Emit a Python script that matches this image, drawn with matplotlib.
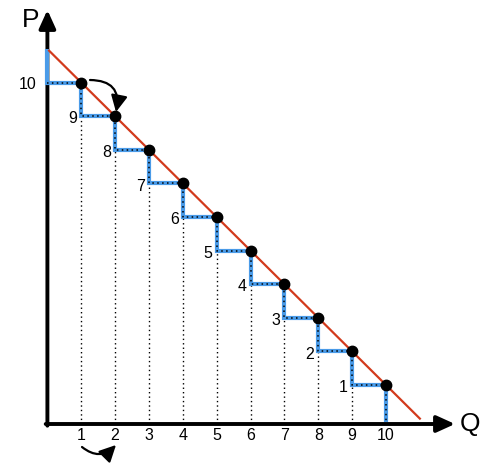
import matplotlib
matplotlib.use("Agg")
import matplotlib.pyplot as plt
from matplotlib.patches import FancyArrowPatch

# ---- data ----
quantities = [1, 2, 3, 4, 5, 6, 7, 8, 9, 10]
prices = [10, 9, 8, 7, 6, 5, 4, 3, 2, 1]
x_tick_labels = ["1", "2", "3", "4", "5", "6", "7", "8", "9", "10"]
price_labels = ["10", "9", "8", "7", "6", "5", "4", "3", "2", "1"]
demand_intercept = 11  # P = 11 - Q

plt.rcParams['font.family'] = ['Liberation Sans', 'DejaVu Sans']

W, H = 502, 463
fig = plt.figure(figsize=(W / 100, H / 100), dpi=100)
ax = fig.add_axes([0, 0, 1, 1])
ax.set_axis_off()

# pixel mapping
x0, sx = 47.4, 33.86
y0, sy = 418.6, 33.6
ax.set_xlim(-x0 / sx, (W - x0) / sx)
ax.set_ylim((y0 - H) / sy, y0 / sy)

def px(x):
    return (x - x0) / sx

def py(y):
    return (y0 - y) / sy

axis_y = py(424)
blue = '#4a9be8'
red = '#d23a1c'

# axes arrows
ax.annotate('', xy=(px(455), axis_y), xytext=(-0.05, axis_y),
            arrowprops=dict(arrowstyle='-|>,head_length=0.55,head_width=0.25',
                            lw=2.8, color='black', mutation_scale=20,
                            shrinkA=0, shrinkB=0), zorder=5)
ax.annotate('', xy=(0, py(10)), xytext=(0, axis_y - 0.05),
            arrowprops=dict(arrowstyle='-|>,head_length=0.55,head_width=0.25',
                            lw=2.8, color='black', mutation_scale=20,
                            shrinkA=0, shrinkB=0), zorder=5)

ax.text(-0.5, py(20), 'P', fontsize=19, ha='center', va='center')
ax.text(px(470), axis_y, 'Q', fontsize=19, ha='center', va='center')

# vertical dotted lines
for q, p in zip(quantities, prices):
    ax.plot([q, q], [axis_y, p], color='black', lw=1.0,
            linestyle=(0, (1, 2.2)), zorder=2)

# blue steps
step_x = [0, 0, quantities[0]]
step_y = [demand_intercept, prices[0], prices[0]]
for i, (q, p) in enumerate(zip(quantities, prices)):
    if i + 1 < len(quantities):
        step_x += [q, quantities[i + 1]]
        step_y += [prices[i + 1], prices[i + 1]]
    else:
        step_x += [q]
        step_y += [axis_y + 0.05]
ax.plot(step_x, step_y, color=blue, lw=3.0, zorder=6, solid_joinstyle='miter',
        solid_capstyle='butt')
ax.plot(step_x[1:], step_y[1:], color='black', lw=1.1,
        linestyle=(0, (1, 2.2)), zorder=6.5)

# demand line
ax.plot([0.05, 11.0], [demand_intercept - 0.05, 0.0], color=red, lw=1.6, zorder=7)

# points
ax.plot(quantities, prices, 'o', color='black', markersize=7.5, zorder=8)

# x tick labels
for q, lab in zip(quantities, x_tick_labels):
    ax.text(q, py(436), lab, fontsize=11.5, ha='center', va='center')

# price labels
ax.text(-0.31, prices[0] - 0.07, price_labels[0], fontsize=11.5, ha='right', va='center')
for q, p, lab in zip(quantities[:-1], prices[1:], price_labels[1:]):
    ax.text(q - 0.12, p - 0.08, lab, fontsize=11.5, ha='right', va='center')

# curved arrows
a1 = FancyArrowPatch((px(90), py(80)), (px(116), py(112)),
                     connectionstyle='arc3,rad=-0.6',
                     arrowstyle='-|>,head_length=0.5,head_width=0.25',
                     mutation_scale=20, lw=1.6, color='black', zorder=9,
                     shrinkA=0, shrinkB=0)
ax.add_patch(a1)
a2 = FancyArrowPatch((px(82), py(447)), (px(116), py(445)),
                     connectionstyle='arc3,rad=0.45',
                     arrowstyle='-|>,head_length=0.5,head_width=0.25',
                     mutation_scale=20, lw=1.6, color='black', zorder=9,
                     shrinkA=0, shrinkB=0)
ax.add_patch(a2)

fig.savefig('out.png', dpi=100)
